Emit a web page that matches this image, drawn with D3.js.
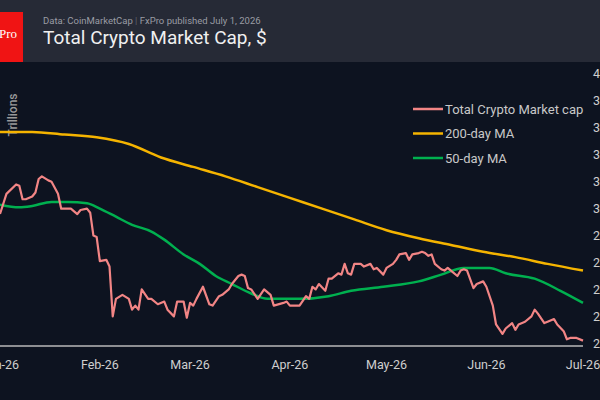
<!DOCTYPE html>
<html>
<head>
<meta charset="utf-8">
<script src="https://cdn.jsdelivr.net/npm/d3@7"></script>
<style>
  body { margin: 0; background: #0d1320; }
  svg { display: block; font-family: Roboto, "Noto Sans", sans-serif; }
</style>
</head>
<body>
<div id="chart"></div>
<script>
// days since Jan 1 2026
var capDays = [0,2,5,6,7,8,10,11,12,13,15,16,18,19,20,22,23,24,25,27,28,29,30,31,33,34,35,36,38,40,41,42,43,44,46,47,49,51,52,54,55,57,58,59,60,61,63,65,66,68,69,71,72,74,75,76,77,78,80,82,84,85,88,89,90,93,95,96,97,98,99,101,102,103,105,106,107,108,109,110,112,113,115,116,117,119,120,122,123,124,126,127,128,130,131,132,133,134,135,137,138,139,140,142,143,144,145,147,148,150,151,153,154,156,157,159,160,161,163,165,166,167,169,170,172,173,175,176,177,179,181]
var capValues = [2.96,3.11,3.18,3.17,3.07,3.07,3.09,3.12,3.22,3.24,3.21,3.20,3.11,3.00,3.00,3.00,2.98,2.96,2.99,3.00,2.97,2.80,2.79,2.61,2.62,2.57,2.20,2.33,2.36,2.33,2.25,2.28,2.25,2.40,2.33,2.33,2.29,2.31,2.25,2.20,2.31,2.31,2.19,2.30,2.28,2.33,2.42,2.29,2.28,2.35,2.36,2.40,2.44,2.50,2.51,2.50,2.41,2.40,2.33,2.40,2.36,2.28,2.30,2.31,2.28,2.28,2.35,2.33,2.42,2.40,2.44,2.39,2.48,2.48,2.52,2.51,2.59,2.52,2.51,2.59,2.59,2.57,2.59,2.55,2.56,2.51,2.56,2.59,2.62,2.66,2.67,2.62,2.66,2.67,2.68,2.67,2.65,2.66,2.59,2.55,2.54,2.56,2.54,2.50,2.54,2.55,2.54,2.41,2.44,2.46,2.42,2.28,2.14,2.07,2.11,2.15,2.10,2.14,2.16,2.20,2.25,2.22,2.15,2.16,2.18,2.14,2.09,2.03,2.04,2.04,2.02]

var ma200Days = [0,10,20,30,40,50,60,70,80,90,100,110,120,130,140,150,160,170,181]
var ma200Values = [3.57,3.57,3.55,3.53,3.48,3.38,3.31,3.24,3.16,3.08,3.00,2.92,2.84,2.78,2.73,2.68,2.64,2.59,2.54]

var ma50Days = [0,6,10,16,21,27,31,36,41,47,51,57,62,67,72,78,83,88,93,102,109,119,130,137,144,152,157,166,174,181]
var ma50Values = [3.03,3.01,3.02,3.05,3.05,3.04,3.00,2.94,2.88,2.83,2.77,2.66,2.59,2.50,2.44,2.37,2.33,2.33,2.33,2.35,2.39,2.42,2.46,2.51,2.56,2.56,2.52,2.48,2.39,2.30]

var monthTicks = ["2026-01-01","2026-02-01","2026-03-01","2026-04-01","2026-05-01","2026-06-01","2026-07-01"]
var valueTicks = [2.0,2.2,2.4,2.6,2.8,3.0,3.2,3.4,3.6,3.8,4.0]

var seriesNames = ["Total Crypto Market cap","200-day MA","50-day MA"]
var seriesColors = ["#f28585","#f5b400","#00b04f"]

var width = 600
var height = 400
var start = new Date(2026, 0, 1)

function toPoints(days, values) {
  return days.map(function(d, i) {
    return {date: d3.timeDay.offset(start, d), value: values[i]}
  })
}

var svg = d3.select("#chart")
  .append("svg")
  .attr("width", width)
  .attr("height", height)

svg.append("rect")
  .attr("width", width).attr("height", height)
  .attr("fill", "#0d1320")

// header
svg.append("rect")
  .attr("width", width).attr("height", 62)
  .attr("fill", "#262a36")

svg.append("rect")
  .attr("x", 0).attr("y", 12)
  .attr("width", 23).attr("height", 50)
  .attr("fill", "#f01414")

svg.append("text")
  .attr("x", 17).attr("y", 38)
  .attr("text-anchor", "end")
  .style("font-family", "'Liberation Serif', serif")
  .style("font-size", "13px")
  .attr("fill", "#fff")
  .text("FxPro")

var sub = svg.append("text")
  .attr("x", 43).attr("y", 24)
  .style("font-size", "9.5px")
  .attr("fill", "#9a9ca4")
sub.append("tspan").text("Data: CoinMarketCap ")
sub.append("tspan").attr("fill", "#5d616b").text("|")
sub.append("tspan").text(" FxPro published July 1, 2026")

svg.append("text")
  .attr("x", 43).attr("y", 44)
  .style("font-size", "19px")
  .attr("fill", "#f0f0f0")
  .text("Total Crypto Market Cap, $")

var x = d3.scaleTime()
  .domain([start, new Date(2026, 6, 1)])
  .range([0, 583])

var y = d3.scaleLinear()
  .domain([1.98, 4.0])
  .range([346, 74])

// baseline
svg.append("line")
  .attr("x1", x.range()[0]).attr("x2", x.range()[1])
  .attr("y1", y(1.98)).attr("y2", y(1.98))
  .attr("stroke", "#b8b8b8")
  .attr("stroke-width", 1.5)

svg.selectAll(".xlab")
  .data(monthTicks)
  .enter().append("text")
  .attr("class", "xlab")
  .attr("x", function(d) { return x(d3.timeParse("%Y-%m-%d")(d)) })
  .attr("y", 369)
  .attr("text-anchor", "middle")
  .style("font-size", "12.5px")
  .attr("fill", "#cfcfcf")
  .text(function(d) { return d3.timeFormat("%b-%y")(d3.timeParse("%Y-%m-%d")(d)) })

svg.selectAll(".ylab")
  .data(valueTicks)
  .enter().append("text")
  .attr("class", "ylab")
  .attr("x", 593)
  .attr("y", function(d) { return y(d) })
  .attr("dy", "0.35em")
  .style("font-size", "12.5px")
  .attr("fill", "#cfcfcf")
  .text(function(d) { return d.toFixed(1) })

svg.append("text")
  .attr("transform", "translate(17,115) rotate(-90)")
  .attr("text-anchor", "middle")
  .style("font-size", "12px")
  .style("font-weight", "500")
  .attr("fill", "#9a9a9a")
  .text("Trillions")

var line = d3.line()
  .x(function(d) { return x(d.date) })
  .y(function(d) { return y(d.value) })

var smooth = d3.line()
  .curve(d3.curveMonotoneX)
  .x(function(d) { return x(d.date) })
  .y(function(d) { return y(d.value) })

svg.append("path")
  .datum(toPoints(ma200Days, ma200Values))
  .attr("fill", "none")
  .attr("stroke", seriesColors[1])
  .attr("stroke-width", 2.5)
  .attr("d", smooth)

svg.append("path")
  .datum(toPoints(ma50Days, ma50Values))
  .attr("fill", "none")
  .attr("stroke", seriesColors[2])
  .attr("stroke-width", 2.5)
  .attr("d", smooth)

svg.append("path")
  .datum(toPoints(capDays, capValues))
  .attr("fill", "none")
  .attr("stroke", seriesColors[0])
  .attr("stroke-width", 2.2)
  .attr("stroke-linejoin", "round")
  .attr("d", line)

// legend
var legend = svg.selectAll(".legend")
  .data(seriesNames)
  .enter().append("g")
  .attr("class", "legend")
  .attr("transform", function(d, i) { return "translate(413," + (109 + i * 24.5) + ")" })

legend.append("line")
  .attr("x1", 0).attr("x2", 30)
  .attr("stroke", function(d, i) { return seriesColors[i] })
  .attr("stroke-width", 2.5)

legend.append("text")
  .attr("x", 32)
  .attr("dy", "0.35em")
  .style("font-size", "13px")
  .attr("fill", "#c8c8c8")
  .text(function(d) { return d })
</script>
</body>
</html>
